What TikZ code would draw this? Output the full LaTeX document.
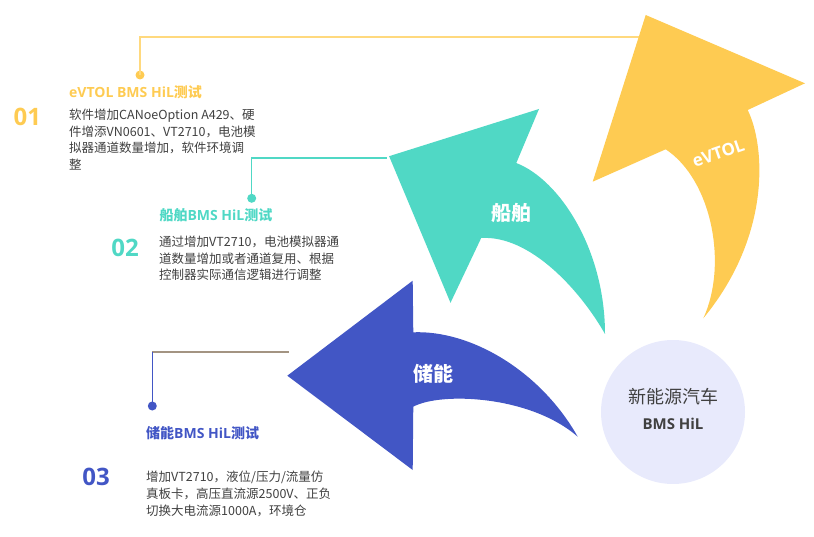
\documentclass[tikz,border=0pt]{standalone}
\usepackage{fontspec}
\setmainfont{Noto Sans CJK SC}
\newfontfamily\latsans{Open Sans}
\definecolor{cyel}{HTML}{FECB52}
\definecolor{cyelline}{HTML}{FFD97E}
\definecolor{cteal}{HTML}{50D8C5}
\definecolor{cblue}{HTML}{4256C5}
\definecolor{cbrown}{HTML}{A39482}
\definecolor{ccirc}{HTML}{E8EAFC}
\definecolor{ctext}{HTML}{404040}
\tikzset{
  bodytxt/.style={anchor=north west, inner sep=0pt, align=left, text=ctext, font=\fontsize{12.5}{16.8}\selectfont},
  headtxt/.style={anchor=west, inner sep=0pt, font=\fontsize{14}{16}\selectfont\bfseries},
  numtxt/.style={anchor=center, inner sep=0pt, font=\latsans\fontsize{24}{26}\selectfont\bfseries},
  arrowlbl/.style={anchor=center, inner sep=0pt, text=white, font=\fontsize{20}{22}\selectfont\bfseries},
  leader/.style={line width=1.3pt},
  dotmark/.style={circle, inner sep=0pt, minimum size=9pt},
}
\begin{document}
\begin{tikzpicture}[x=1pt,y=-1pt]
\useasboundingbox (0,0) rectangle (814,537);
% leader lines
\coordinate (yc) at (140,37);
\coordinate (ye) at (641,37);
\coordinate (tc) at (251.7,158);
\coordinate (te) at (387,158);
\coordinate (bc) at (152.3,352);
\coordinate (be) at (288.7,352);
\node[dotmark, fill=cyel] (yd) at (140,75) {};
\node[dotmark, fill=cteal] (td) at (251.7,198.3) {};
\node[dotmark, fill=cblue] (bd) at (152.3,406) {};
\draw[leader, cyelline] (yd.center) -- (yc) -- (ye);
\draw[leader, cteal] (td.center) -- (tc) -- (te);
\draw[leader, cbrown] (bc) -- (be);
\draw[leader, cblue] (bd.center) -- (bc);
% yellow arrow
\fill[cyel] (665.7,149.3) -- (592.7,181.7) -- (645.7,15) -- (805,83.3) -- (747.7,110)
  .. controls (765,145) and (772,235) .. (703.3,318.3)
  .. controls (728,265) and (712,180) .. (665.7,149.3) -- cycle;
% teal arrow
\fill[cteal] (481.2,238) -- (450.5,302.8) -- (389.1,156.2) -- (539,109) -- (516.3,163)
  .. controls (560,180) and (605,250) .. (605,334)
  .. controls (580,290) and (530,235) .. (481.2,238) -- cycle;
% blue arrow
\fill[cblue] (413.3,332.3) -- (412.7,280.7) -- (287.3,375.7) -- (412.7,470) -- (413.3,406.7)
  .. controls (440,392) and (530,395) .. (577.7,436.7)
  .. controls (540,370) and (470,330) .. (413.3,332.3) -- cycle;
% circle
\node[circle, fill=ccirc, minimum size=144pt, inner sep=0pt] (hub) at (673,412) {};
\node[anchor=center, inner sep=0pt, text=ctext, font=\fontsize{18}{20}\selectfont] (hubzh) at (673,397) {新能源汽车};
\node[anchor=center, inner sep=0pt, text=ctext, font=\latsans\fontsize{15}{17}\selectfont\bfseries] (hubla) at (673,424) {BMS HiL};
% arrow labels
\node[arrowlbl, rotate=19, font=\latsans\fontsize{17}{19}\selectfont\bfseries] (lyel) at (718.3,153.3) {eVTOL};
\node[arrowlbl] (lteal) at (511.6,212.9) {船舶};
\node[arrowlbl] (lblue) at (433.3,374) {储能};
% 01
\node[numtxt, text=cyel] (n1) at (27.3,116.7) {01};
\node[headtxt, text=cyel] (h1) at (69,92.7) {{\latsans eVTOL BMS HiL}测试};
\node[bodytxt] (b1) at (69,108.5) {软件增加CANoeOption A429、硬\\件增添VN0601、VT2710，电池模\\拟器通道数量增加，软件环境调\\整};
% 02
\node[numtxt, text=cteal] (n2) at (125,248.3) {02};
\node[headtxt, text=cteal] (h2) at (159.3,215) {船舶{\latsans BMS HiL}测试};
\node[bodytxt] (b2) at (159,235.5) {通过增加VT2710，电池模拟器通\\道数量增加或者通道复用、根据\\控制器实际通信逻辑进行调整};
% 03
\node[numtxt, text=cblue] (n3) at (96,476.7) {03};
\node[headtxt, text=cblue] (h3) at (146,433.3) {储能{\latsans BMS HiL}测试};
\node[bodytxt] (b3) at (146,471) {增加VT2710，液位/压力/流量仿\\真板卡，高压直流源2500V、正负\\切换大电流源1000A，环境仓};
\end{tikzpicture}
\end{document}
